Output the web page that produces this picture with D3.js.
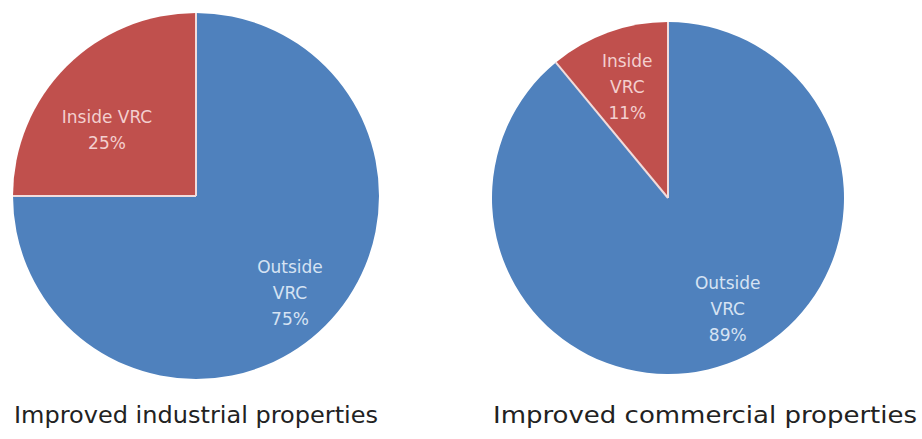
<!DOCTYPE html>
<html>
<head>
<meta charset="utf-8">
<script src="https://cdn.jsdelivr.net/npm/d3@7"></script>
<style>
  body { margin: 0; background: #fff; }
  svg text { font-family: "DejaVu Sans", sans-serif; }
</style>
</head>
<body>
<div id="chart"></div>
<script>
var colors = {}
colors.outside = "#4f81bd"
colors.inside = "#c0504d"

// slice order (clockwise from 12 o'clock)
var categories = ["outside", "inside"]
var industrialValues = [75, 25]
var commercialValues = [89, 11]

var industrialLabels = [["Outside", "VRC", "75%"], ["Inside VRC", "25%"]]
var commercialLabels = [["Outside", "VRC", "89%"], ["Inside", "VRC", "11%"]]

var titles = ["Improved industrial properties", "Improved commercial properties"]

document.addEventListener("DOMContentLoaded", function() {
  bootstrap()
});

function bootstrap(){
  var svg = d3.select("#chart").append("svg")
    .attr("width", 922)
    .attr("height", 439)

  // nudge = small label offsets [dx, dy] per slice
  drawPie(svg, industrialValues, industrialLabels,
    {cx: 196, cy: 196, r: 183, labelR: 0.68, nudge: [[6, 9], [-1, 22]]})
  drawPie(svg, commercialValues, commercialLabels,
    {cx: 668, cy: 198, r: 176, labelR: 0.70, nudge: [[18, -5], [1, 5]]})

  svg.append("text")
    .attr("x", 196).attr("y", 423)
    .attr("text-anchor", "middle")
    .attr("font-size", 23)
    .attr("fill", "#222")
    .attr("textLength", 364)
    .attr("lengthAdjust", "spacingAndGlyphs")
    .text(titles[0])

  svg.append("text")
    .attr("x", 705).attr("y", 423)
    .attr("text-anchor", "middle")
    .attr("font-size", 23)
    .attr("fill", "#222")
    .attr("textLength", 424)
    .attr("lengthAdjust", "spacingAndGlyphs")
    .text(titles[1])
}

function drawPie(svg, values, labels, opt){
  var textColor = ["#d6e3f3", "#f3cfcf"]
  var data = values.map(function(v, i){
    return {key: categories[i], value: v, lines: labels[i]}
  })

  var pie = d3.pie().sort(null).value(function(d){ return d.value })
  var arcs = pie(data)
  var arc = d3.arc().innerRadius(0).outerRadius(opt.r)
  var labelArc = d3.arc().innerRadius(opt.r * opt.labelR).outerRadius(opt.r * opt.labelR)

  var g = svg.append("g")
    .attr("transform", "translate(" + opt.cx + "," + opt.cy + ")")

  var slices = g.selectAll("g.slice")
    .data(arcs)
    .enter()
    .append("g")
    .attr("class", "slice")

  slices.append("path")
    .attr("d", arc)
    .attr("fill", function(d){ return colors[d.data.key] })

  // light separators between slices
  g.selectAll("line.sep")
    .data(arcs)
    .enter()
    .append("line")
    .attr("class", "sep")
    .attr("x1", 0).attr("y1", 0)
    .attr("x2", function(d){ return d3.pointRadial(d.startAngle, opt.r)[0] })
    .attr("y2", function(d){ return d3.pointRadial(d.startAngle, opt.r)[1] })
    .attr("stroke", "#f2dcdc")
    .attr("stroke-width", 2)

  var lineH = 26
  slices.append("text")
    .attr("text-anchor", "middle")
    .attr("font-size", 17)
    .attr("fill", function(d, i){ return textColor[i] })
    .attr("transform", function(d, i){
      var c = labelArc.centroid(d)
      var n = d.data.lines.length
      return "translate(" + (c[0] + opt.nudge[i][0]) + "," + (c[1] - (n - 1) * lineH / 2 + 6 + opt.nudge[i][1]) + ")"
    })
    .selectAll("tspan")
    .data(function(d){ return d.data.lines })
    .enter()
    .append("tspan")
    .attr("x", 0)
    .attr("dy", function(d, i){ return i === 0 ? 0 : lineH })
    .text(function(d){ return d })
}
</script>
</body>
</html>
